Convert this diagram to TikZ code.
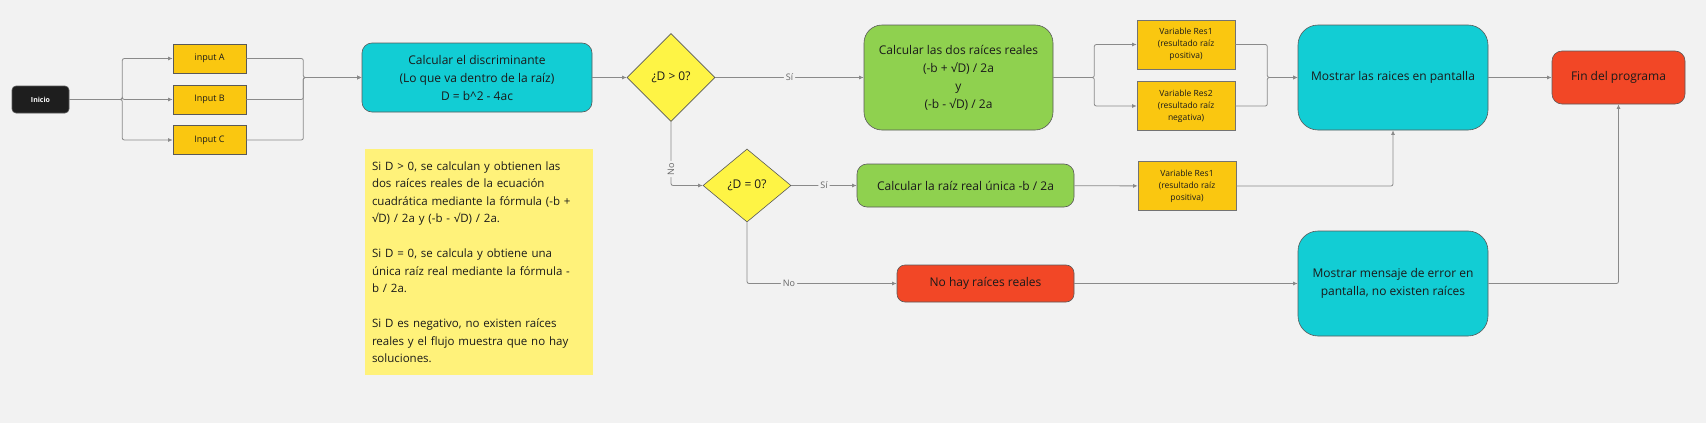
\documentclass[tikz,border=0pt]{standalone}
\usepackage{fontspec}
\setmainfont{Open Sans}
\usetikzlibrary{arrows.meta,shapes.geometric}
\definecolor{canvas}{HTML}{F2F2F2}
\definecolor{inkgray}{HTML}{1A1A1A}
\definecolor{startblack}{HTML}{1E1E1E}
\definecolor{amber}{HTML}{FAC710}
\definecolor{aqua}{HTML}{12CDD4}
\definecolor{leaf}{HTML}{8FD14F}
\definecolor{tomato}{HTML}{F24726}
\definecolor{lemon}{HTML}{FEF445}
\definecolor{sticky}{HTML}{FFF27A}
\definecolor{wire}{HTML}{8A8A8A}
\tikzset{
  box/.style={draw=black!65, line width=0.6pt, inner sep=0pt, align=center, text=inkgray, font=\fontsize{12}{18}\selectfont},
  proc/.style={box, fill=#1},
  var/.style={box, fill=amber, draw=black!55, font=\fontsize{8.5}{12.2}\selectfont, minimum width=98, minimum height=49},
  inbox/.style={box, fill=amber, font=\fontsize{9}{11}\selectfont, minimum width=73, minimum height=29},
  decision/.style={box, diamond, fill=lemon, minimum width=88},
  link/.style={draw=wire, line width=0.8pt, rounded corners=2pt, -{Latex[length=4.5pt,width=4pt]}},
  tag/.style={fill=canvas, inner sep=2pt, text=black!60, font=\fontsize{9}{10}\selectfont}
}
\begin{document}
\begin{tikzpicture}[x=1pt,y=-1pt]
\fill[canvas] (0,0) rectangle (1706,423);
\useasboundingbox (0,0) rectangle (1706,423);
% start and inputs
\node[box, fill=startblack, text=white, rounded corners=4pt, minimum width=57, minimum height=27, font=\bfseries\fontsize{7}{8}\selectfont] (inicio) at (40.5,99.5) {Inicio};
\node[inbox] (inA) at (209.5,58.5) {input A};
\node[inbox] (inB) at (209.5,99.5) {Input B};
\node[inbox] (inC) at (209.5,140) {Input C};
\node[proc=aqua, rounded corners=10pt, minimum width=230, minimum height=69] (disc) at (477,77.5) {Calcular el discriminante\\(Lo que va dentro de la raíz)\\D = b\textasciicircum 2 - 4ac};
% D > 0
\node[decision, minimum height=88] (dpos) at (671,77.5) {¿D > 0?};
\node[proc=leaf, rounded corners=18pt, minimum width=189, minimum height=105] (dos) at (958.5,77.5) {Calcular las dos raíces reales\\(-b + √D) / 2a\\y\\(-b - √D) / 2a};
\node[var] (resA) at (1186,44.5) {Variable Res1\\(resultado raíz\\positiva)};
\node[var] (resB) at (1186,106) {Variable Res2\\(resultado raíz\\negativa)};
\node[proc=aqua, rounded corners=20pt, minimum width=190, minimum height=105] (show) at (1393,77.5) {Mostrar las raices en pantalla};
\node[proc=tomato, rounded corners=10pt, minimum width=133, minimum height=53] (fin) at (1618.5,77.5) {Fin del programa};
% note
\node[proc=sticky, draw=none, minimum width=228, minimum height=226, text width=214, inner xsep=7pt, align=left, font=\fontsize{11.5}{17.5}\selectfont] (note) at (479,262) {Si D > 0, se calculan y obtienen las\\dos raíces reales de la ecuación\\cuadrática mediante la fórmula (-b +\\√D) / 2a y (-b - √D) / 2a.\\[17.5pt]Si D = 0, se calcula y obtiene una\\única raíz real mediante la fórmula -\\b / 2a.\\[17.5pt]Si D es negativo, no existen raíces\\reales y el flujo muestra que no hay\\soluciones.};
% D = 0
\node[decision, minimum height=73] (dzero) at (747,185.5) {¿D = 0?};
\node[proc=leaf, rounded corners=10pt, minimum width=217, minimum height=43] (una) at (965.5,185.5) {Calcular la raíz real única -b / 2a};
\node[var] (resC) at (1187,186) {Variable Res1\\(resultado raíz\\positiva)};
\node[proc=tomato, rounded corners=8pt, minimum width=177, minimum height=37] (nohay) at (985.5,283.5) {No hay raíces reales};
\node[proc=aqua, rounded corners=20pt, minimum width=190, minimum height=105] (err) at (1393,283.5) {Mostrar mensaje de error en\\pantalla, no existen raíces};
% connectors
\foreach \n in {inA,inB,inC} {
  \draw[link] (inicio.east) -- ++(53,0) |- (\n.west);
  \draw[link] (\n.east) -- ++(57,0) |- (disc.west);
}
\draw[link] (disc) -- (dpos);
\draw[link] (dpos) -- node[tag]{Sí} (dos);
\foreach \r in {resA,resB} {
  \draw[link] (dos.east) -- ++(41,0) |- (\r.west);
  \draw[link] (\r.east) -- ++(32,0) |- (show.west);
}
\draw[link] (show) -- (fin);
\draw[link] (dpos.south) |- node[tag, pos=0.37, rotate=90]{No} (dzero.west);
\draw[link] (dzero) -- node[tag]{Sí} (una);
\draw[link] (una) -- (resC);
\draw[link] (resC.east) -| (show.south);
\draw[link] (dzero.south) |- node[tag, pos=0.64]{No} (nohay.west);
\draw[link] (nohay) -- (err);
\draw[link] (err.east) -| (fin.south);
\end{tikzpicture}
\end{document}
